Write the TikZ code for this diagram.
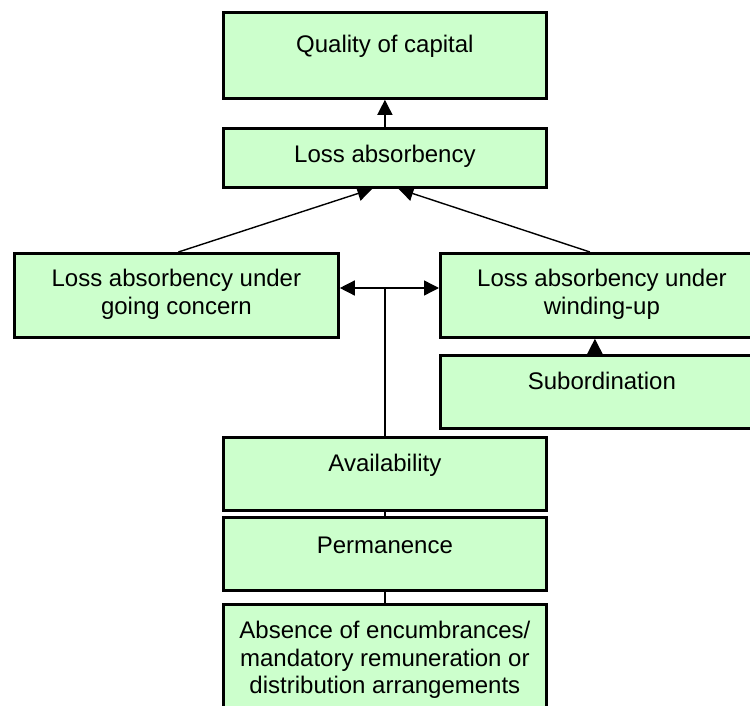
\documentclass[tikz,border=0pt]{standalone}
\usepackage{fontspec}
\setmainfont{Liberation Sans}
\usetikzlibrary{arrows.meta,calc}
\definecolor{boxgreen}{HTML}{CCFFCC}
\begin{document}
\begin{tikzpicture}[x=1pt,y=-1pt,
  box/.style={draw=black, line width=2.8pt, fill=boxgreen, inner xsep=0pt, inner ysep=0pt,
    anchor=north west, align=center, font=\fontsize{24}{27.6}\selectfont},
  conn/.style={draw=black, line width=1.4pt},
  arr/.style={conn, -{Triangle[length=15pt,width=15pt]}}]
\useasboundingbox (0,0) rectangle (750,706);
\clip (0,0) rectangle (750,706);
\node[box, minimum width=323pt, text height=40pt, text depth=46pt] (q) at (222,11) {Quality of capital};
\node[box, minimum width=323pt, text height=34pt, text depth=25pt] (la) at (222,127) {Loss absorbency};
\node[box, minimum width=324pt, text height=60.6pt, text depth=23.4pt] (gc) at (13,252) {Loss absorbency under\\going concern};
\node[box, minimum width=323pt, text height=60.6pt, text depth=23.4pt] (wu) at (439,252) {Loss absorbency under\\winding-up};
\node[box, minimum width=323pt, text height=34pt, text depth=39pt] (sub) at (439,354) {Subordination};
\node[box, minimum width=323pt, text height=34pt, text depth=39pt] (av) at (222,436) {Availability};
\node[box, minimum width=323pt, text height=36pt, text depth=37pt] (perm) at (222,516) {Permanence};
\node[box, minimum width=323pt, text height=89.2pt, text depth=27.8pt] (abs) at (222,603) {Absence of encumbrances/\\mandatory remuneration or\\distribution arrangements};
\coordinate (j) at (385,288);
\draw[arr] (la.north) -- (q.south);
\draw[arr] ($(gc.north)+(2,0)$) -- ($(la.south)+(-12.5,0)$);
\draw[arr] ($(wu.north)+(-12,0)$) -- ($(la.south)+(13.5,0)$);
\draw[arr] (j) -- (gc.east |- j);
\draw[arr] (j) -- (wu.west |- j);
\draw[conn] (j) -- (j |- av.north);
\draw[arr] ($(sub.north)+(-7,0)$) -- ($(wu.south)+(-7,0)$);
\draw[conn] (av.south) -- (perm.north);
\draw[conn] (perm.south) -- (abs.north);
\end{tikzpicture}
\end{document}
